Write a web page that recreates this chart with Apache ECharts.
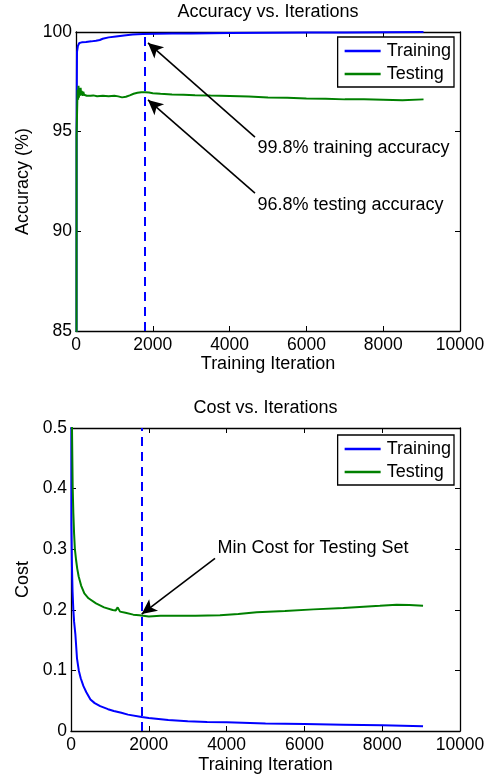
<!DOCTYPE html>
<html><head><meta charset="utf-8">
<script src="https://cdn.jsdelivr.net/npm/echarts@6/dist/echarts.min.js"></script>
<style>html,body{margin:0;padding:0;background:#fff}#c{width:497px;height:775px}</style>
</head><body><div id="c"></div>
<script>
// ---------- Accuracy chart data ----------
const accTrainX = [0, 15, 26, 50, 86, 150, 260, 400, 520, 620, 695, 850, 1040, 1250, 1475, 1736, 2100, 2500, 3000, 3500, 4000, 5000, 6000, 7000, 8000, 9050];
const accTrainY = [10, 95.0, 99.0, 99.3, 99.45, 99.48, 99.5, 99.53, 99.56, 99.6, 99.66, 99.73, 99.78, 99.83, 99.87, 99.9, 99.91, 99.92, 99.93, 99.94, 99.95, 99.96, 99.97, 99.98, 99.99, 100];
const accTestX = [0, 15, 26, 40, 55, 65, 75, 90, 105, 120, 135, 150, 170, 190, 210, 240, 280, 330, 380, 450, 550, 700, 850, 1000, 1100, 1200, 1300, 1400, 1500, 1600, 1700, 1800, 1900, 2000, 2200, 2500, 2800, 3100, 3500, 4000, 4500, 5000, 5500, 6000, 6500, 7000, 7500, 8000, 8500, 9050];
const accTestY = [10, 94.8, 95.8, 97.1, 96.6, 97.3, 96.7, 97.1, 96.8, 97.2, 96.85, 97.05, 96.8, 97.0, 96.85, 96.95, 96.8, 96.85, 96.8, 96.82, 96.78, 96.8, 96.78, 96.8, 96.77, 96.72, 96.75, 96.82, 96.9, 96.95, 96.98, 96.98, 96.96, 96.93, 96.9, 96.87, 96.85, 96.83, 96.81, 96.79, 96.76, 96.72, 96.70, 96.67, 96.65, 96.62, 96.62, 96.6, 96.57, 96.62];

// ---------- Cost chart data ----------
const costTrainX = [0, 10, 25, 40, 60, 80, 112, 154, 200, 250, 320, 394, 500, 609, 750, 951, 1100, 1294, 1465, 1817, 2000, 2500, 3000, 3500, 4000, 5000, 6000, 7000, 8000, 9050];
const costTrainY = [2.3, 0.34, 0.27, 0.23, 0.20, 0.18, 0.16, 0.12, 0.10, 0.087, 0.074, 0.064, 0.052, 0.046, 0.041, 0.036, 0.033, 0.030, 0.027, 0.023, 0.0214, 0.018, 0.016, 0.0148, 0.0143, 0.0125, 0.0115, 0.0105, 0.0093, 0.0077];
const costTestX = [0, 26, 43, 60, 80, 100, 129, 160, 197, 260, 343, 450, 643, 850, 1071, 1150, 1200, 1260, 1400, 1600, 1757, 2000, 2300, 2700, 3200, 3830, 4300, 4774, 5500, 6230, 7000, 7940, 8370, 8700, 9050];
const costTestY = [2.3, 0.497, 0.403, 0.36, 0.325, 0.30, 0.283, 0.268, 0.255, 0.24, 0.227, 0.219, 0.2106, 0.204, 0.1996, 0.199, 0.204, 0.197, 0.195, 0.192, 0.191, 0.189, 0.19, 0.19, 0.19, 0.191, 0.193, 0.196, 0.198, 0.2007, 0.203, 0.2067, 0.2084, 0.208, 0.2067];

// ---------- axes / labels ----------
const xTickMin = 0, xTickMax = 10000, xTickStep = 2000;
const accMin = 85, accMax = 100, accStep = 5;
const costMin = 0, costMax = 0.5, costStep = 0.1;
const legendNames = ['Training', 'Testing'];

// ---------- annotations (data coordinates) ----------
const accBestIter = 1800;
const costBestIter = 1820;
const accArrows = [[[4661, 94.73], [1875, 99.45]], [[4661, 91.92], [1875, 96.59]]];
const accNotes = [['99.8% training accuracy', 4714, 94.18], ['96.8% testing accuracy', 4714, 91.32]];
const costArrows = [[[3702, 0.285], [1817, 0.193]]];
const costNotes = [['Min Cost for Testing Set', 3753, 0.3026]];

const zip = (xs, ys) => xs.map((x, i) => [x, ys[i]]);
const FONT = 'Liberation Sans, Arial, Helvetica, sans-serif';
const BLUE = '#0000ff', GREEN = '#008000';

function mainX(grid, name, gap) {
  return {type: 'value', gridIndex: grid, min: xTickMin, max: xTickMax, interval: xTickStep,
    name: name, nameLocation: 'middle', nameGap: gap,
    nameTextStyle: {color: '#000', fontSize: 18, fontFamily: FONT},
    axisLine: {show: true, lineStyle: {color: '#000', width: 1.3}},
    axisTick: {show: true, inside: true, length: 5, lineStyle: {color: '#000'}},
    axisLabel: {color: '#000', fontSize: 17.5, fontFamily: FONT, margin: 5, formatter: v => String(v)},
    splitLine: {show: false}};
}
function topX(grid) {
  return {type: 'value', gridIndex: grid, position: 'top', min: xTickMin, max: xTickMax, interval: xTickStep,
    axisLine: {show: true, onZero: false, lineStyle: {color: '#000', width: 1.3}},
    axisTick: {show: true, inside: true, length: 5, lineStyle: {color: '#000'}},
    axisLabel: {show: false}, splitLine: {show: false}};
}
function mainY(grid, min, max, step, name, gap) {
  return {type: 'value', gridIndex: grid, min: min, max: max, interval: step,
    name: name, nameLocation: 'middle', nameGap: gap, nameRotate: 90,
    nameTextStyle: {color: '#000', fontSize: 18, fontFamily: FONT},
    axisLine: {show: true, onZero: false, lineStyle: {color: '#000', width: 1.3}},
    axisTick: {show: true, inside: true, length: 5, lineStyle: {color: '#000'}},
    axisLabel: {color: '#000', fontSize: 17.5, fontFamily: FONT, margin: 4, formatter: v => String(+v.toFixed(2))},
    splitLine: {show: false}};
}
function rightY(grid, min, max, step) {
  return {type: 'value', gridIndex: grid, position: 'right', min: min, max: max, interval: step,
    axisLine: {show: true, onZero: false, lineStyle: {color: '#000', width: 1.3}},
    axisTick: {show: true, inside: true, length: 5, lineStyle: {color: '#000'}},
    axisLabel: {show: false}, splitLine: {show: false}};
}
function arrowLines(arr) {
  return arr.map(a => [
    {coord: a[0], symbol: 'none', lineStyle: {color: '#000', width: 1.6, type: 'solid'}},
    {coord: a[1], symbol: 'arrow', symbolSize: [11, 15]}
  ]);
}
function notes(arr) {
  return arr.map(n => ({name: n[0], coord: [n[1], n[2]]}));
}
function legend(top) {
  return {data: legendNames.map(n => ({name: n, icon: 'rect'})), orient: 'vertical', right: 43, top: top,
    padding: [5, 3, 4, 7], itemGap: 5, itemWidth: 36, itemHeight: 2.5,
    borderColor: '#000', borderWidth: 1.3, backgroundColor: '#fff',
    selectedMode: false,
    textStyle: {color: '#000', fontSize: 18, fontFamily: FONT, lineHeight: 18, padding: [0, 0, 0, 1]}};
}
function lineSeries(name, color, xi, yi, data, extra) {
  return Object.assign({name: name, type: 'line', xAxisIndex: xi, yAxisIndex: yi, data: data,
    symbol: 'none', showSymbol: false, animation: false, silent: true,
    lineStyle: {color: color, width: 2}, itemStyle: {color: color}}, extra || {});
}

const chart = echarts.init(document.getElementById('c'), null, {renderer: 'canvas'});
chart.setOption({
  animation: false,
  textStyle: {fontFamily: FONT},
  graphic: [
    {type: 'text', x: 268, y: 12, style: {text: 'Accuracy vs. Iterations', fill: '#000', font: '18px ' + FONT, textAlign: 'center', textVerticalAlign: 'middle'}},
    {type: 'text', x: 265.5, y: 408, style: {text: 'Cost vs. Iterations', fill: '#000', font: '18px ' + FONT, textAlign: 'center', textVerticalAlign: 'middle'}}
  ],
  grid: [
    {left: 76, right: 37, top: 32, height: 299, containLabel: false},
    {left: 71, right: 37, top: 428, height: 303, containLabel: false}
  ],
  legend: [legend(37), legend(435)],
  xAxis: [mainX(0, 'Training Iteration', 24), topX(0), mainX(1, 'Training Iteration', 25), topX(1)],
  yAxis: [mainY(0, accMin, accMax, accStep, 'Accuracy (%)', 39), rightY(0, accMin, accMax, accStep),
          mainY(1, costMin, costMax, costStep, 'Cost', 36), rightY(1, costMin, costMax, costStep)],
  series: [
    lineSeries('Training', BLUE, 0, 0, zip(accTrainX, accTrainY)),
    lineSeries('Testing', GREEN, 0, 0, zip(accTestX, accTestY), {
      markLine: {silent: true, animation: false, symbol: ['none', 'none'], label: {show: false},
        emphasis: {disabled: true},
        data: [{xAxis: accBestIter, lineStyle: {color: BLUE, width: 2, type: [9, 6]}}].concat(arrowLines(accArrows))},
      markPoint: {silent: true, animation: false, symbol: 'circle', symbolSize: 1, itemStyle: {color: 'rgba(0,0,0,0)'},
        label: {show: true, position: 'right', distance: 0, color: '#000', fontSize: 18, fontFamily: FONT, formatter: p => p.name},
        data: notes(accNotes)}
    }),
    lineSeries('Training', BLUE, 2, 2, zip(costTrainX, costTrainY)),
    lineSeries('Testing', GREEN, 2, 2, zip(costTestX, costTestY), {
      markLine: {silent: true, animation: false, symbol: ['none', 'none'], label: {show: false},
        emphasis: {disabled: true},
        data: [{xAxis: costBestIter, lineStyle: {color: BLUE, width: 2, type: [9, 6]}}].concat(arrowLines(costArrows))},
      markPoint: {silent: true, animation: false, symbol: 'circle', symbolSize: 1, itemStyle: {color: 'rgba(0,0,0,0)'},
        label: {show: true, position: 'right', distance: 0, color: '#000', fontSize: 18, fontFamily: FONT, formatter: p => p.name},
        data: notes(costNotes)}
    })
  ]
});
</script></body></html>
